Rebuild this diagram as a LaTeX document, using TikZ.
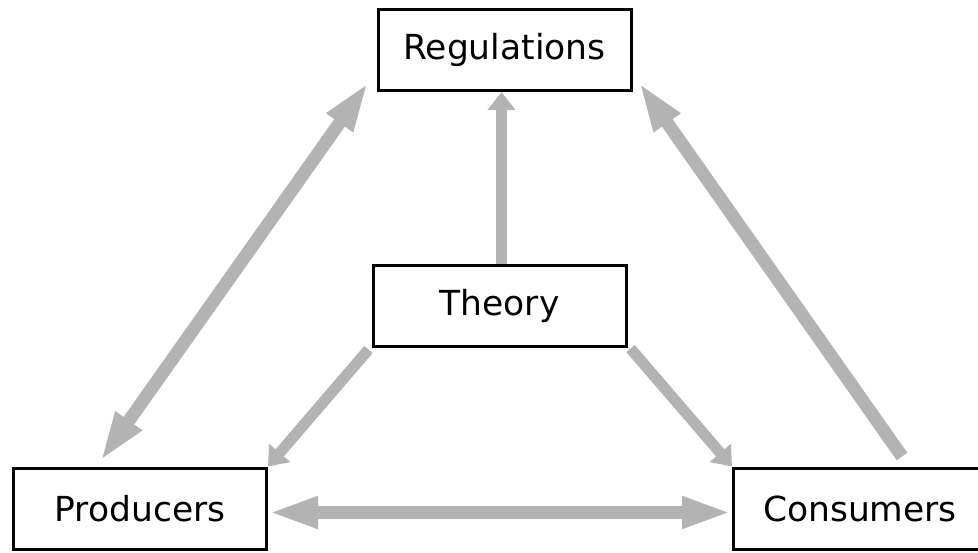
\documentclass[tikz,border=0pt]{standalone}
\usepackage{fontspec}
\setmainfont{DejaVu Sans}
\usetikzlibrary{arrows.meta,calc}
\definecolor{arrowgray}{RGB}{179,179,179}

\begin{document}
\begin{tikzpicture}[x=1pt,y=-1pt,
	box/.style={draw,line width=3pt,minimum width=253pt,minimum height=81pt,anchor=center,inner sep=0pt,font=\fontsize{34.5}{40}\selectfont},
	longarrow/.style={draw=arrowgray,line width=13pt,>={Triangle[length=50pt,width=29pt]}},
	shortarrow/.style={draw=arrowgray,line width=11pt,>={Triangle[length=18pt,width=27pt]}}]
	\clip (0,0) rectangle (978,552);
	\node (reg) at (504.5,50) [box] {Regulations};
	\node (theory) at (499.5,305.5) [box] {Theory};
	\node (prod) at (140,508.5) [box] {Producers};
	\node (cons) at (860,508.5) [box] {Consumers};
	% from the theory
	\draw[shortarrow,->] ([xshift=2pt]theory.north) coordinate (T1) -- (T1|-reg.south);
	\draw[shortarrow,->] ([xshift=-3pt,yshift=-2pt]theory.south west) -- (prod.north east);
	\draw[shortarrow,->] ([xshift=3pt,yshift=-1pt]theory.south east) -- (cons.north west);
	% outer triangle
	\draw[longarrow,<->] ([xshift=88pt,yshift=5pt]prod.north west) -- ([xshift=-8pt,yshift=10pt]reg.south west);
	\draw[longarrow,<->] ([yshift=-4pt]prod.east) -- ([yshift=-4pt]cons.west);
	\draw[longarrow,->] ([xshift=42pt,yshift=10pt]cons.north) -- ([xshift=6pt,yshift=10pt]reg.south east);
\end{tikzpicture}
\end{document}
